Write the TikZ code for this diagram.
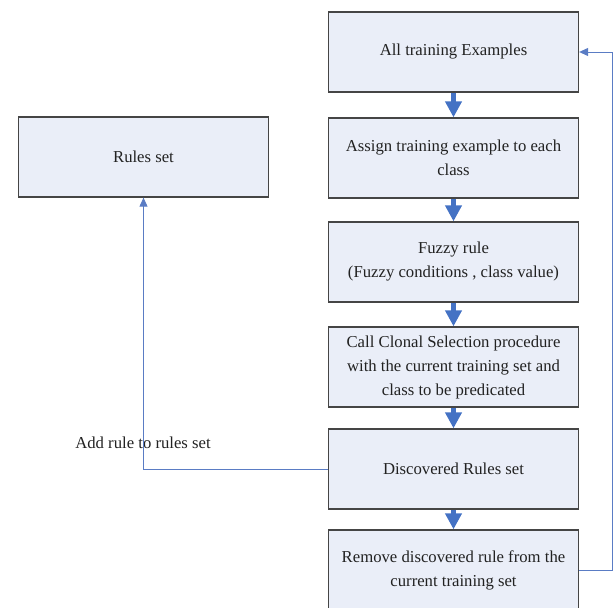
\documentclass[tikz,border=0pt]{standalone}
\usepackage{fontspec}
\setmainfont{Liberation Serif}
\usetikzlibrary{arrows.meta}
\definecolor{boxfill}{HTML}{EAEEF8}
\definecolor{boxline}{HTML}{454545}
\definecolor{flowblue}{HTML}{4472C4}
\definecolor{thinblue}{HTML}{5A7CC4}
\definecolor{txt}{HTML}{222222}
\begin{document}
\begin{tikzpicture}[x=1pt,y=-1pt,
  stepbox/.style={draw=boxline, fill=boxfill, line width=1.3pt, minimum width=250pt, minimum height=80pt,
    align=center, inner sep=0pt, text=txt, font=\fontsize{16.7}{24}\selectfont},
  flow/.style={draw=flowblue, line width=4.5pt, -{Triangle[width=16pt,length=16pt]}},
  thin/.style={draw=thinblue, line width=1pt, -{Triangle[width=8pt,length=9pt]}},
  lbl/.style={text=txt, font=\fontsize{16.7}{24}\selectfont}]
\useasboundingbox (0,0) rectangle (614,608);
\node[stepbox] (b1) at (453.5,52) {All training Examples};
\node[stepbox] (b2) at (453.5,158) {Assign training example to each\\class};
\node[stepbox] (b3) at (453.5,262) {Fuzzy rule\\(Fuzzy conditions , class value)};
\node[stepbox] (b4) at (453.5,367) {Call Clonal Selection procedure\\with the current training set and\\class to be predicated};
\node[stepbox] (b5) at (453.5,469) {Discovered Rules set};
\node[stepbox] (b6) at (453.5,570) {Remove discovered rule from the\\current training set};
\node[stepbox] (rs) at (143.5,157) {Rules set};
\node[lbl] (add) at (143,443) {Add rule to rules set};
\draw[flow] (b1.south) -- (b2.north);
\draw[flow] (b2.south) -- (b3.north);
\draw[flow] (b3.south) -- (b4.north);
\draw[flow] (b4.south) -- (b5.north);
\draw[flow] (b5.south) -- (b6.north);
\draw[thin] (b5.west) -| (rs.south);
\draw[thin] (b6.east) -- ++(33,0) |- (b1.east);
\end{tikzpicture}
\end{document}
